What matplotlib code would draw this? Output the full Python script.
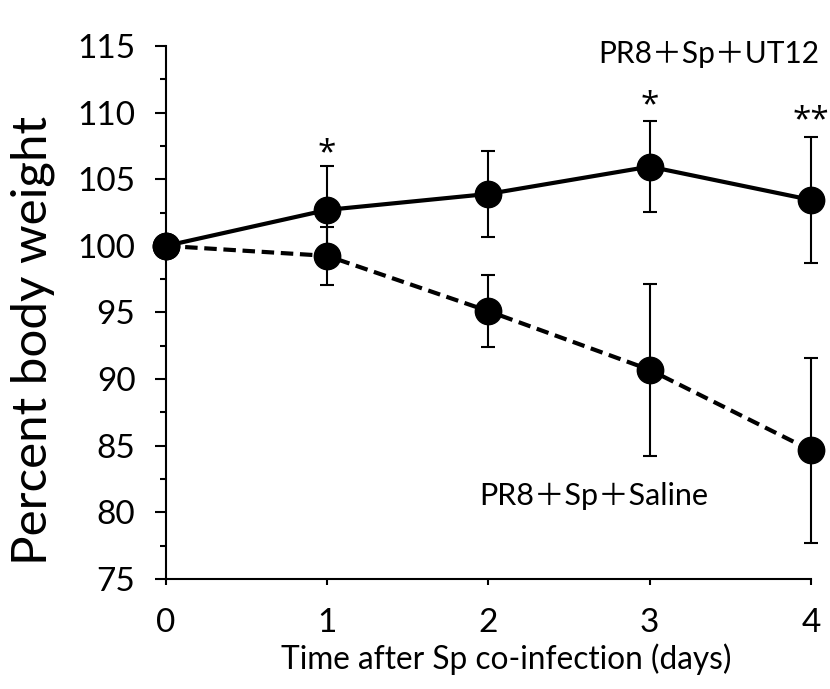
import matplotlib
matplotlib.use('Agg')
import matplotlib.pyplot as plt
from matplotlib.ticker import MultipleLocator

days = [0, 1, 2, 3, 4]
ut12_mean = [100.0, 102.7, 103.9, 105.95, 103.45]
ut12_err = [0, 3.3, 3.2, 3.4, 4.7]
saline_mean = [100.0, 99.25, 95.1, 90.7, 84.65]
saline_err = [0, 2.2, 2.7, 6.45, 6.95]
stars = ['', '*', '', '*', '**']
star_y = [0, 106.9, 0, 110.5, 109.35]

font = 'Lato'
plus_font = [font, 'Noto Sans CJK JP']

fig = plt.figure(figsize=(8.3, 6.89), dpi=100)
ax = fig.add_axes([0.2, 0.1597, 0.777, 0.7735])

ax.errorbar(days, ut12_mean, yerr=ut12_err, color='black', lw=3, ls='-',
            marker='o', ms=19, elinewidth=1.5, capsize=5, capthick=1.5,
            clip_on=False, zorder=3)
ax.errorbar(days, saline_mean, yerr=saline_err, color='black', lw=3, ls=(0, (3, 1.6)),
            marker='o', ms=19, elinewidth=1.5, capsize=5, capthick=1.5,
            clip_on=False, zorder=3)

for d, s, y in zip(days, stars, star_y):
    if s:
        ax.text(d, y, s, ha='center', va='center', fontsize=24, family='Open Sans')

ax.text(4.05, 114.4, 'PR8＋Sp＋UT12', ha='right', va='center', fontsize=21.5, family=plus_font)
ax.text(1.94, 81.2, 'PR8＋Sp＋Saline', ha='left', va='center', fontsize=22, family=plus_font)

ax.set_xlim(0, 4)
ax.set_ylim(75, 115)
ax.set_xticks(days)
ax.yaxis.set_major_locator(MultipleLocator(5))
ax.yaxis.set_minor_locator(MultipleLocator(2.5))

for side in ['top', 'right']:
    ax.spines[side].set_visible(False)
for side in ['left', 'bottom']:
    ax.spines[side].set_linewidth(1.5)

ax.tick_params(axis='y', which='major', length=8, width=1.5, pad=14, labelsize=24)
ax.tick_params(axis='y', which='minor', length=4, width=1.5)
ax.tick_params(axis='x', which='major', length=4, width=1.5, pad=17, labelsize=24)
for lab in ax.get_xticklabels() + ax.get_yticklabels():
    lab.set_family(font)

ax.set_ylabel('Percent body weight', fontsize=35.5, family=font)
ax.yaxis.set_label_coords(-0.172, 0.448)
ax.set_xlabel('Time after Sp co-infection (days)', fontsize=22.8, family=font)
ax.xaxis.set_label_coords(0.527, -0.12)

fig.savefig('out.png', dpi=100)
